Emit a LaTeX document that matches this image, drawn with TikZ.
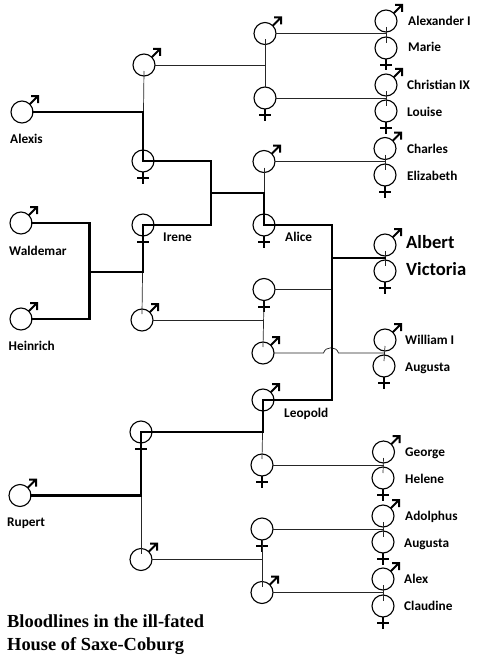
\documentclass[tikz,border=0pt]{standalone}
\usepackage{fontspec}
\setmainfont{Carlito}
\newfontfamily\titlefont{Liberation Serif}
\tikzset{
  symb/.style={circle,draw=black,line width=1.1pt,minimum size=22pt,inner sep=0pt,outer sep=0pt},
  male/.style={symb},
  female/.style={symb},
  glyph/.style={line width=2pt,line join=miter,miter limit=10},
  heavy/.style={line width=2.8pt,line join=miter,line cap=rect},
  fine/.style={line width=0.7pt,black!85},
  nm/.style={anchor=base west,inner sep=0pt,font=\fontsize{13.3}{15}\selectfont\bfseries},
  big/.style={anchor=base west,inner sep=0pt,font=\fontsize{18.6}{20}\selectfont\bfseries},
  ttl/.style={anchor=base west,inner sep=0pt,font=\titlefont\fontsize{18.4}{22}\selectfont\bfseries}
}
\begin{document}
\begin{tikzpicture}[x=1pt,y=-1pt]
\useasboundingbox (0,0) rectangle (480,661);
% founders
\node[male] (alexis) at (22,112) {};
\node[male] (waldemar) at (21,223) {};
\node[male] (heinrich) at (21,319) {};
\node[male] (rupert) at (20,495.5) {};
% second column
\node[male] (a1) at (144,65) {};
\node[female] (a2) at (143,161) {};
\node[female] (irene) at (143,225) {};
\node[male] (a3) at (142,320) {};
\node[female] (b1) at (141,432) {};
\node[male] (b2) at (141,559.5) {};
% third column
\node[male] (c1) at (265,33.5) {};
\node[female] (c2) at (265,98) {};
\node[male] (c3) at (264,161.5) {};
\node[female] (alice) at (264,225) {};
\node[female] (c5) at (264,289.5) {};
\node[male] (c6) at (263,353) {};
\node[male] (leopold) at (263,400) {};
\node[female] (c8) at (262,465) {};
\node[female] (c9) at (262,529) {};
\node[male] (c10) at (262,592.5) {};
% right column
\node[male] (r1) at (386,21) {};
\node[female] (r2) at (386,48) {};
\node[male] (r3) at (386,85) {};
\node[female] (r4) at (386,111) {};
\node[male] (r5) at (385,148.5) {};
\node[female] (r6) at (385,175) {};
\node[male] (albert) at (385,245) {};
\node[female] (victoria) at (385,271) {};
\node[male] (r7) at (385,340) {};
\node[female] (r8) at (384,366) {};
\node[male] (r9) at (383.5,452) {};
\node[female] (r10) at (383,478) {};
\node[male] (r11) at (383,516) {};
\node[female] (r12) at (383,542) {};
\node[male] (r13) at (383,579) {};
\node[female] (r14) at (383,606) {};
% gender marks
\foreach \n in {alexis,waldemar,heinrich,rupert,a1,a3,b2,c1,c3,c6,leopold,c10,r1,r3,r5,albert,r7,r9,r11,r13}
  \draw[glyph] (\n.45) -- ([xshift=15.5pt,yshift=15.5pt]\n.center)
    ([xshift=9pt,yshift=16pt]\n.center) -- ([xshift=16pt,yshift=16pt]\n.center) -- ([xshift=16pt,yshift=9pt]\n.center);
\foreach \n in {a2,irene,b1,c2,alice,c5,c8,c9,r2,r4,r6,victoria,r8,r10,r12,r14}
  \draw[glyph] (\n.south) -- ([yshift=-11.5pt]\n.south)
    ([xshift=-6pt,yshift=-6pt]\n.south) -- ([xshift=6pt,yshift=-6pt]\n.south);
% couples
\foreach \u/\v in {r1/r2,r3/r4,r5/r6,albert/victoria,r7/r8,r9/r10,r11/r12,r13/r14}
  \draw[fine] ([yshift=-6pt]\u.center) -- ([yshift=5pt]\v.center);
% thin links
\draw[fine] (c1) -- (c1 -| r1);
\draw[fine] (c2) -- (c2 -| r3);
\draw[fine] (c3) -- (c3 -| r5);
\draw[fine] ([yshift=-6pt]c1.center) -- (c2.north);
\draw[fine] ([yshift=-6pt]c3.center) -- (alice.north);
\draw[fine] (a1) -- (a1 -| c1);
\draw[fine] ([yshift=-6pt]a1.center) -- (a2.north);
\draw[fine] (irene.south) -- ([yshift=6pt]a3.center);
\draw[fine] (a3) -- (a3 -| c5);
\draw[fine] (c5.south) -- ([yshift=6pt]c6.center);
\draw[fine] (leopold.south) -- ([yshift=6pt]c8.center);
\draw[fine] (c8) -- (c8 -| r9);
\draw[fine] (c9) -- (c9 -| r11);
\draw[fine] (c9.south) -- ([yshift=6pt]c10.center);
\draw[fine] (c10) -- (c10 -| r13);
\draw[fine] (b1.south) -- ([yshift=6pt]b2.center);
\draw[fine] (b2) -- (b2 -| c9);
% link that ends on the heavy line
\coordinate (j3) at (332,258);
\draw[fine] (c5) -- (c5 -| j3);
% link that hops the heavy line
\coordinate (hop) at (331.5,353);
\draw[fine] (c6) -- ([xshift=-8pt]hop) .. controls ([xshift=-6pt,yshift=7pt]hop) and ([xshift=5pt,yshift=7pt]hop) .. ([xshift=7pt]hop) -- (hop -| r7);
% heavy links
\coordinate (j1) at (89.5,272);
\coordinate (j2) at (211,193);
\draw[heavy] (alexis) -- (alexis -| a2) -- (a2.center) -| (j2);
\draw[heavy] (irene.center) -| (j2);
\draw[heavy] (j2) -| (alice.center);
\draw[heavy] (waldemar) -| (j1);
\draw[heavy] (heinrich) -| (j1);
\draw[heavy] (j1) -| (irene.center);
\draw[heavy] (alice.center) -| (j3);
\draw[heavy] (j3) -- (j3 -| victoria);
\draw[heavy] (j3) |- (leopold.center);
\draw[heavy] (leopold.center) |- (b1.center);
\draw[heavy] (b1.center) |- (rupert);
% labels
\node[nm] (l1) at (10,143) {Alexis};
\node[nm] (l2) at (9,255) {Waldemar};
\node[nm] (l3) at (8.5,350.5) {Heinrich};
\node[nm] (l4) at (163,241) {Irene};
\node[nm] (l5) at (285,241.5) {Alice};
\node[nm] (l6) at (284,417) {Leopold};
\node[nm] (l7) at (7,526) {Rupert};
\node[nm] (l8) at (408,25.5) {Alexander I};
\node[nm] (l9) at (408,52) {Marie};
\node[nm] (l10) at (407,89) {Christian IX};
\node[nm] (l11) at (407,116) {Louise};
\node[nm] (l12) at (407,153) {Charles};
\node[nm] (l13) at (407,180) {Elizabeth};
\node[big] (l14) at (406,248) {Albert};
\node[big] (l15) at (406,275) {Victoria};
\node[nm] (l16) at (405,344) {William I};
\node[nm] (l17) at (405,371) {Augusta};
\node[nm] (l18) at (405,456) {George};
\node[nm] (l19) at (405,483) {Helene};
\node[nm] (l20) at (405,520) {Adolphus};
\node[nm] (l21) at (404,547) {Augusta};
\node[nm] (l22) at (404,583) {Alex};
\node[nm] (l23) at (404,610) {Claudine};
\node[ttl] (t1) at (7,627) {Bloodlines in the ill-fated};
\node[ttl] (t2) at (7,650) {House of Saxe-Coburg};
\end{tikzpicture}
\end{document}
